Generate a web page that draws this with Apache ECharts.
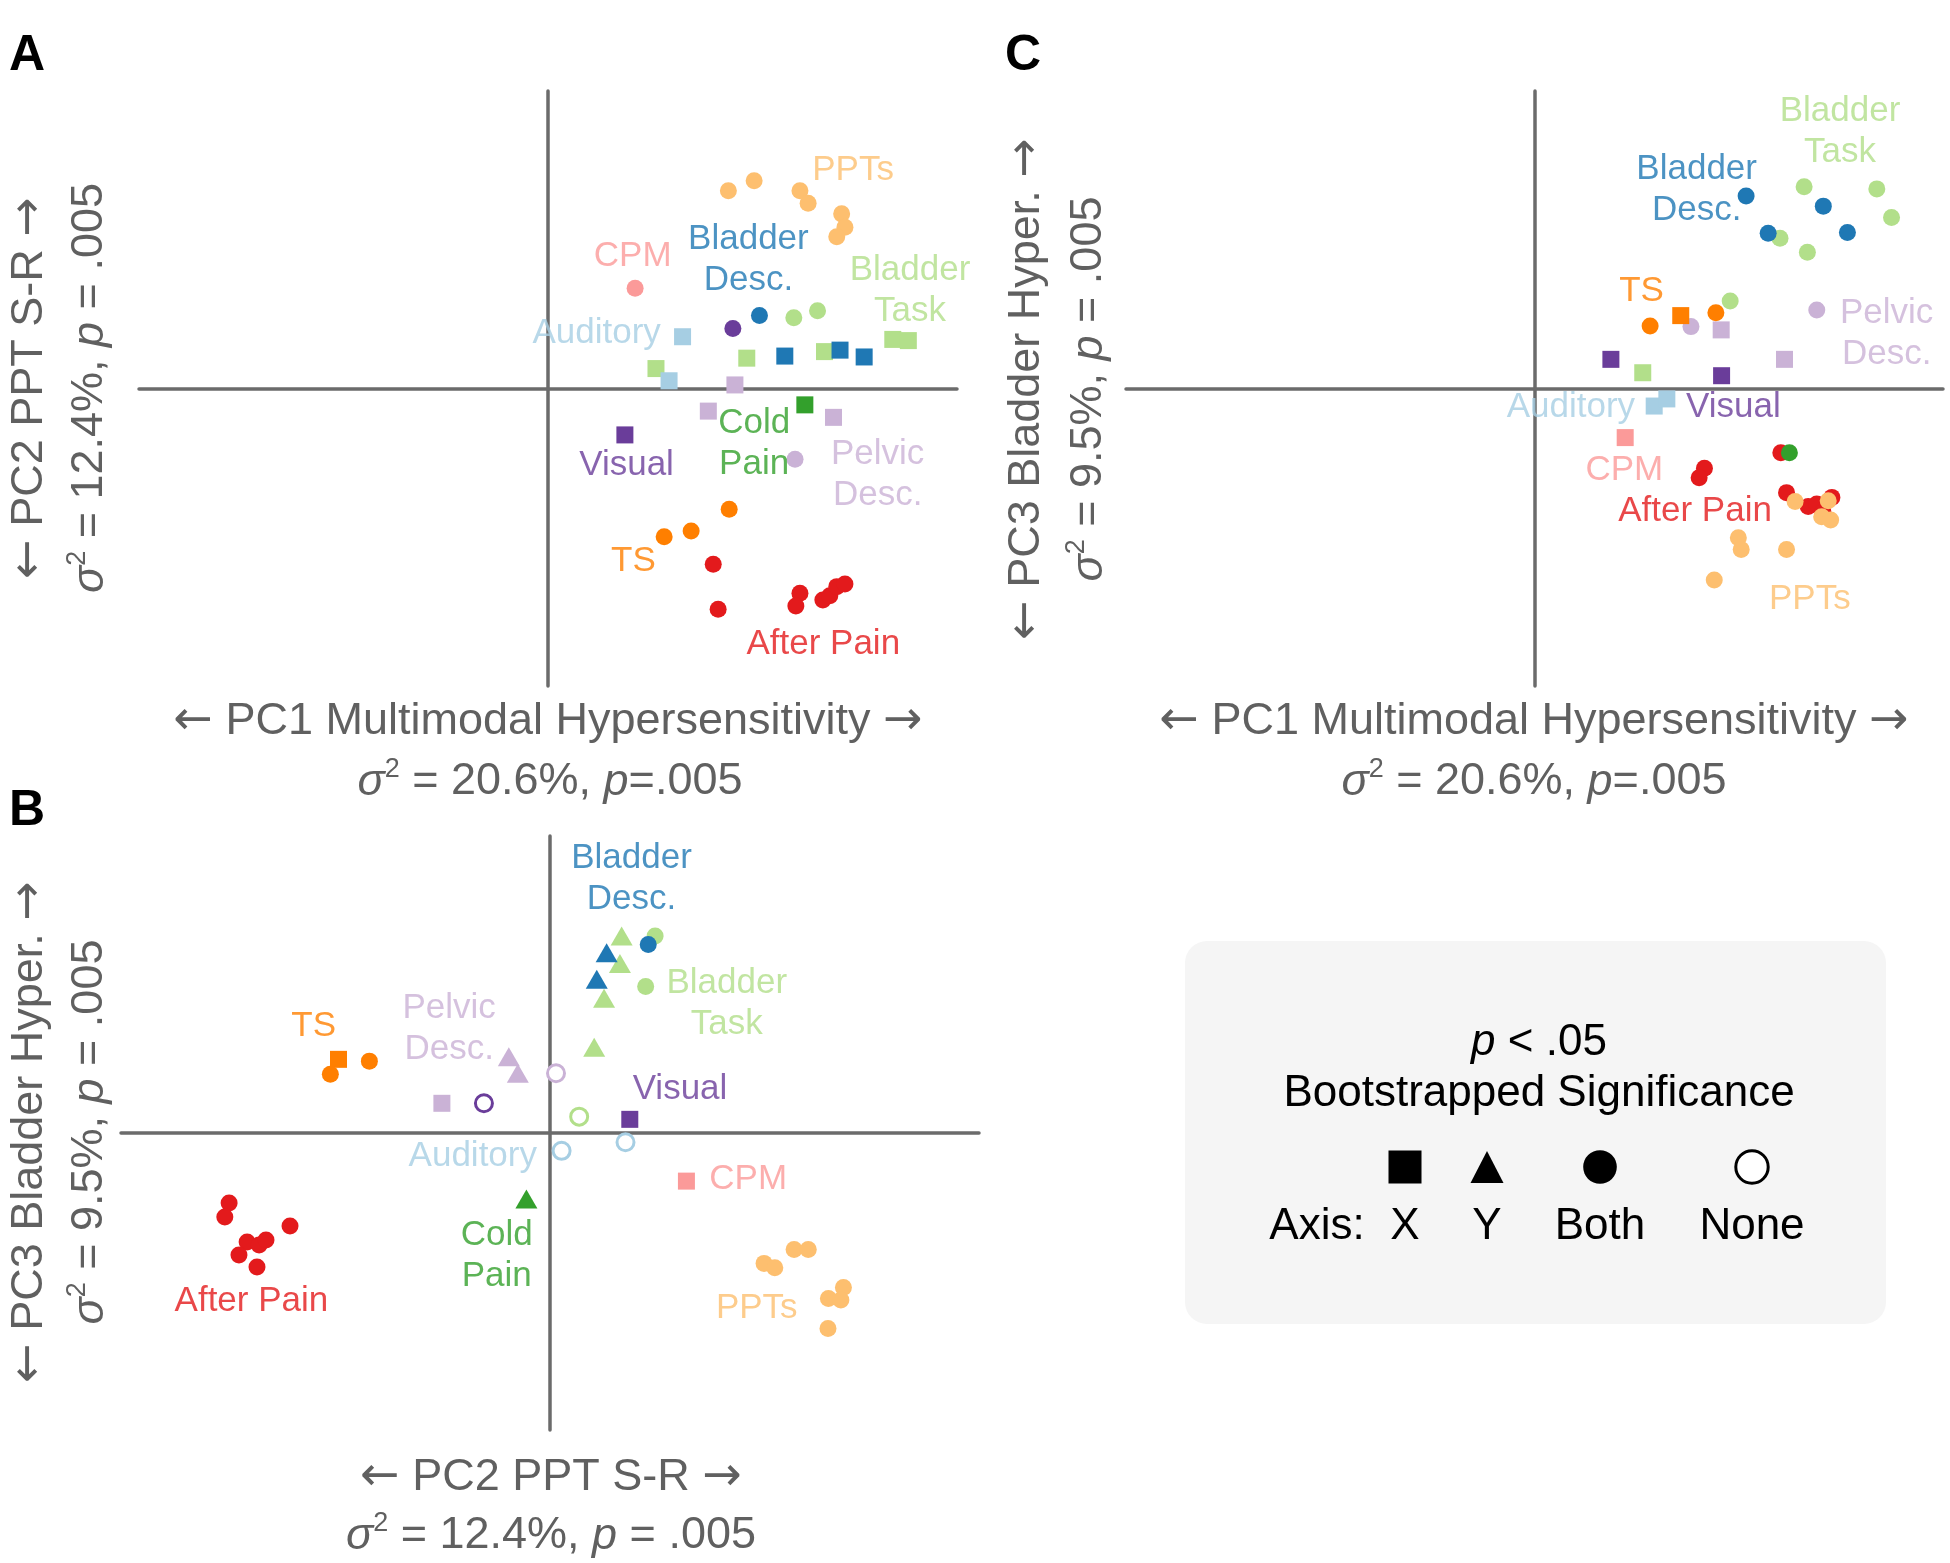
<!DOCTYPE html>
<html><head><meta charset="utf-8">
<script src="https://cdn.jsdelivr.net/npm/echarts@6/dist/echarts.min.js"></script>
<style>html,body{margin:0;padding:0;background:#fff}#c{width:1950px;height:1563px}</style>
</head><body><div id="c"></div>
<script>
// ---------------- DATA ----------------
// significance code: X = x axis only (square), Y = y axis only (triangle), B = both (filled circle), N = none (hollow circle)
const groupNames = ['Bladder Task','Bladder Desc.','Auditory','Visual','Pelvic Desc.','TS','CPM','After Pain','PPTs','Cold Pain'];

// Panel A : PC1 (x) vs PC2 (y)
const A_bladderTask = [[6.01,2.38,'B'],[6.59,2.61,'B'],[8.43,1.65,'X'],[8.81,1.61,'X'],[6.76,1.24,'X'],[4.86,1.02,'X'],[2.64,0.67,'X']];
const A_bladderDesc = [[5.17,2.45,'B'],[5.79,1.09,'X'],[7.14,1.29,'X'],[7.73,1.06,'X']];
const A_auditory    = [[3.29,1.74,'X'],[2.96,0.26,'X']];
const A_visual      = [[4.52,2.02,'B'],[1.88,-1.56,'X']];
const A_pelvic      = [[4.57,0.12,'X'],[3.92,-0.76,'X'],[6.98,-0.97,'X'],[6.04,-2.38,'B']];
const A_ts          = [[4.43,-4.06,'B'],[3.50,-4.79,'B'],[2.84,-4.98,'B']];
const A_cpm         = [[2.13,3.37,'B']];
const A_afterPain   = [[4.04,-5.91,'B'],[4.16,-7.42,'B'],[6.16,-6.88,'B'],[6.06,-7.31,'B'],[6.72,-7.11,'B'],[6.89,-6.97,'B'],[7.06,-6.66,'B'],[7.26,-6.57,'B']];
const A_ppts        = [[4.41,6.65,'B'],[5.04,6.98,'B'],[6.16,6.65,'B'],[6.36,6.23,'B'],[7.18,5.87,'B'],[7.26,5.42,'B'],[7.06,5.10,'B']];
const A_coldPain    = [[6.28,-0.55,'X']];
const A_labels = [
  ['PPTs','PPTs',7.46,7.34],['CPM','CPM',2.07,4.43],['Bladder Desc.','Bladder\nDesc.',4.90,4.34],
  ['Bladder Task','Bladder\nTask',8.85,3.27],['Auditory','Auditory',1.19,1.86],['Visual','Visual',1.92,-2.57],
  ['Cold Pain','Cold\nPain',5.04,-1.87],['Pelvic Desc.','Pelvic\nDesc.',8.06,-2.89],['TS','TS',2.09,-5.80],
  ['After Pain','After Pain',6.73,-8.60]
];

// Panel B : PC2 (x) vs PC3 (y)
const B_bladderTask = [[1.67,6.63,'Y'],[1.63,5.71,'Y'],[1.26,4.54,'Y'],[1.03,2.89,'Y'],[2.45,6.63,'B'],[2.23,4.93,'B'],[0.68,0.55,'N']];
const B_bladderDesc = [[1.32,6.07,'Y'],[1.09,5.18,'Y'],[2.29,6.35,'B']];
const B_auditory    = [[1.76,-0.31,'N'],[0.27,-0.60,'N']];
const B_visual      = [[1.86,0.46,'X'],[-1.54,1.00,'N']];
const B_pelvic      = [[-0.96,2.57,'Y'],[-0.75,2.01,'Y'],[0.14,2.01,'N'],[-2.52,1.00,'X']];
const B_ts          = [[-4.93,2.48,'X'],[-5.12,1.98,'B'],[-4.21,2.42,'B']];
const B_cpm         = [[3.18,-1.62,'X']];
const B_afterPain   = [[-7.48,-2.36,'B'],[-7.58,-2.83,'B'],[-6.06,-3.13,'B'],[-7.06,-3.67,'B'],[-6.78,-3.77,'B'],[-7.25,-4.11,'B'],[-6.83,-4.51,'B'],[-6.62,-3.60,'B']];
const B_ppts        = [[4.99,-4.39,'B'],[5.24,-4.54,'B'],[5.69,-3.92,'B'],[6.02,-3.92,'B'],[6.84,-5.20,'B'],[6.49,-5.57,'B'],[6.78,-5.62,'B'],[6.48,-6.58,'B']];
const B_coldPain    = [[-0.55,-2.22,'Y']];
const B_labels = [
  ['Bladder Desc.','Bladder\nDesc.',1.90,8.56],['Bladder Task','Bladder\nTask',4.12,4.35],['Visual','Visual',3.03,1.47],
  ['TS','TS',-5.51,3.60],['Pelvic Desc.','Pelvic\nDesc.',-2.35,3.51],['Auditory','Auditory',-1.80,-0.80],
  ['Cold Pain','Cold\nPain',-1.24,-4.13],['CPM','CPM',4.62,-1.56],['After Pain','After Pain',-6.96,-5.66],
  ['PPTs','PPTs',4.82,-5.90]
];

// Panel C : PC1 (x) vs PC3 (y)
const C_bladderTask = [[6.60,6.78,'B'],[8.38,6.71,'B'],[8.74,5.75,'B'],[6.01,5.05,'B'],[6.68,4.58,'B'],[4.79,2.94,'B'],[2.65,0.53,'X']];
const C_bladderDesc = [[5.18,6.47,'B'],[7.07,6.13,'B'],[5.72,5.22,'B'],[7.66,5.24,'B']];
const C_auditory    = [[2.93,-0.59,'X'],[3.24,-0.35,'X']];
const C_visual      = [[1.87,0.98,'X'],[4.58,0.43,'X']];
const C_pelvic      = [[3.83,2.08,'B'],[6.91,2.64,'B'],[4.57,1.97,'X'],[6.12,0.98,'X']];
const C_ts          = [[2.83,2.10,'B'],[4.44,2.55,'B'],[3.58,2.45,'X']];
const C_cpm         = [[2.22,-1.65,'X']];
const C_afterPain   = [[6.03,-2.16,'B'],[4.16,-2.68,'B'],[4.03,-3.00,'B'],[6.17,-3.50,'B'],[6.70,-3.97,'B'],[6.91,-3.88,'B'],[7.28,-3.66,'B'],[7.06,-4.15,'B']];
const C_ppts        = [[6.38,-3.80,'B'],[7.19,-3.77,'B'],[7.03,-4.31,'B'],[7.25,-4.42,'B'],[4.99,-5.02,'B'],[5.06,-5.41,'B'],[6.17,-5.41,'B'],[4.40,-6.44,'B']];
const C_coldPain    = [[6.24,-2.16,'B']];
const C_labels = [
  ['Bladder Desc.','Bladder\nDesc.',3.97,6.69],['Bladder Task','Bladder\nTask',7.48,8.64],['TS','TS',2.62,3.28],
  ['Pelvic Desc.','Pelvic\nDesc.',8.62,1.84],['Auditory','Auditory',0.89,-0.65],['Visual','Visual',4.87,-0.65],
  ['CPM','CPM',2.20,-2.74],['After Pain','After Pain',3.93,-4.12],['PPTs','PPTs',6.74,-7.09]
];

// axis titles
const xTitles = ['PC1 Multimodal Hypersensitivity','PC2 PPT S-R','PC1 Multimodal Hypersensitivity'];
const yTitles = ['PC2 PPT S-R','PC3 Bladder Hyper.','PC3 Bladder Hyper.'];
const xVar = [['20.6%','=.005'],['12.4%',' = .005'],['20.6%','=.005']];
const yVar = [['12.4%',' = .005'],['9.5%',' = .005'],['9.5%',' = .005']];
const panelLetters = ['A','B','C'];
const legendKeys = ['X','Y','Both','None'];

// ---------------- STYLE ----------------
const FONT = '"Liberation Sans", Arial, Helvetica, sans-serif';
const colorOf = {
  'Bladder Task':'#b2df8a','Bladder Desc.':'#1f78b4','Auditory':'#a6cee3','Visual':'#6a3d9a','Pelvic Desc.':'#cab2d6',
  'TS':'#ff7f00','CPM':'#fb9a99','After Pain':'#e31a1c','PPTs':'#fdbf6f','Cold Pain':'#33a02c'
};
const grids = [
  {left:139, top:91, width:818, height:595},
  {left:121, top:836, width:858, height:594},
  {left:1126, top:91, width:817, height:595}
];
const AXIS_COLOR = '#6b6b6b';
const TITLE_COLOR = '#606060';

const panels = [
  {groups:[A_bladderTask,A_bladderDesc,A_auditory,A_visual,A_pelvic,A_ts,A_cpm,A_afterPain,A_ppts,A_coldPain], labels:A_labels},
  {groups:[B_bladderTask,B_bladderDesc,B_auditory,B_visual,B_pelvic,B_ts,B_cpm,B_afterPain,B_ppts,B_coldPain], labels:B_labels},
  {groups:[C_bladderTask,C_bladderDesc,C_auditory,C_visual,C_pelvic,C_ts,C_cpm,C_afterPain,C_ppts,C_coldPain], labels:C_labels}
];

function symOf(s){ return s==='X' ? 'rect' : s==='Y' ? 'triangle' : 'circle'; }
function sizeOf(s){ return s==='Y' ? [22,19] : 17; }

const series = [];
panels.forEach((p, pi) => {
  p.groups.forEach((pts, gi) => {
    const name = groupNames[gi];
    const c = colorOf[name];
    series.push({
      type:'scatter', name, xAxisIndex:pi, yAxisIndex:pi, z:3, silent:true,
      emphasis:{disabled:true},
      data: pts.map(d => ({
        value:[d[0], d[1]], symbol:symOf(d[2]), symbolSize:sizeOf(d[2]),
        itemStyle: d[2]==='N' ? {color:'#ffffff', borderColor:c, borderWidth:3, opacity:1} : {color:c, opacity:1}
      }))
    });
  });
  series.push({
    type:'scatter', xAxisIndex:pi, yAxisIndex:pi, z:5, silent:true, symbolSize:1,
    itemStyle:{color:'rgba(0,0,0,0)'}, emphasis:{disabled:true},
    label:{show:true, position:'inside', formatter:(q)=>q.name, fontSize:35, lineHeight:41,
      fontFamily:FONT, align:'center', verticalAlign:'middle', textBorderWidth:0},
    data: p.labels.map(l => ({name:l[1], value:[l[2], l[3]], label:{color:colorOf[l[0]]}}))
  });
});

function axisCommon(gi){
  return {type:'value', gridIndex:gi, min:-10, max:10,
    axisLine:{show:true, onZero:true, lineStyle:{color:AXIS_COLOR, width:3.5}},
    axisTick:{show:false}, axisLabel:{show:false}, splitLine:{show:false}};
}

// ---------------- GRAPHIC (titles, letters, legend) ----------------
const richT = {
  n:{fontSize:45, fontFamily:FONT, fill:TITLE_COLOR, lineHeight:52},
  a:{fontSize:47, fontFamily:'"DejaVu Sans", sans-serif', fill:TITLE_COLOR, lineHeight:52},
  i:{fontSize:45, fontFamily:FONT, fill:TITLE_COLOR, fontStyle:'italic', lineHeight:52},
  s:{fontSize:27, fontFamily:FONT, fill:TITLE_COLOR, verticalAlign:'top', lineHeight:52}
};
function titleText(t){ return '{a|\u2190}{n| ' + t + ' }{a|\u2192}'; }
function varText(v){ return '{i|\u03c3}{s|2}{n| = ' + v[0] + ', }{i|p}{n|' + v[1] + '}'; }
const graphic = [];
const xTitlePos = [[548,722,550,782],[551,1478,551,1536],[1534,722,1534,782]];
const yTitlePos = [[30,388,90,388],[30,1132,90,1132],[1027,389,1089,389]];
for (let k=0;k<3;k++){
  graphic.push({type:'text', x:xTitlePos[k][0], y:xTitlePos[k][1], silent:true,
    style:{text:titleText(xTitles[k]), rich:richT, align:'center', verticalAlign:'middle'}});
  graphic.push({type:'text', x:xTitlePos[k][2], y:xTitlePos[k][3], silent:true,
    style:{text:varText(xVar[k]), rich:richT, align:'center', verticalAlign:'middle'}});
  graphic.push({type:'text', x:yTitlePos[k][0], y:yTitlePos[k][1], rotation:Math.PI/2, silent:true,
    style:{text:titleText(yTitles[k]), rich:richT, align:'center', verticalAlign:'middle'}});
  graphic.push({type:'text', x:yTitlePos[k][2], y:yTitlePos[k][3], rotation:Math.PI/2, silent:true,
    style:{text:varText(yVar[k]), rich:richT, align:'center', verticalAlign:'middle'}});
}
const letterPos = [[27,56],[27,811],[1023,56]];
panelLetters.forEach((L, k) => graphic.push({type:'text', x:letterPos[k][0], y:letterPos[k][1], silent:true,
  style:{text:L, fontSize:50, fontWeight:'bold', fontFamily:FONT, fill:'#000', align:'center', verticalAlign:'middle'}}));

// legend box
graphic.push({type:'rect', shape:{x:1185, y:941, width:701, height:383, r:22}, silent:true, style:{fill:'#f5f5f5'}});
graphic.push({type:'text', x:1539, y:1043, silent:true, style:{
  text:'{i|p}{n| < .05}', rich:{
    n:{fontSize:44, fontFamily:FONT, fill:'#000'}, i:{fontSize:44, fontFamily:FONT, fill:'#000', fontStyle:'italic'}},
  align:'center', verticalAlign:'middle'}});
graphic.push({type:'text', x:1539, y:1094, silent:true, style:{text:'Bootstrapped Significance', fontSize:44, fontFamily:FONT, fill:'#000', align:'center', verticalAlign:'middle'}});
graphic.push({type:'text', x:1317, y:1227, silent:true, style:{text:'Axis:', fontSize:44, fontFamily:FONT, fill:'#000', align:'center', verticalAlign:'middle'}});
const legX = [1405,1487,1600,1752];
legendKeys.forEach((k, i) => graphic.push({type:'text', x:legX[i], y:1227, silent:true,
  style:{text:k, fontSize:44, fontFamily:FONT, fill:'#000', align:'center', verticalAlign:'middle'}}));
graphic.push({type:'rect', shape:{x:1388.5, y:1150.5, width:33, height:33}, silent:true, style:{fill:'#000'}});
graphic.push({type:'polygon', shape:{points:[[1487,1151],[1470.5,1183],[1503.5,1183]]}, silent:true, style:{fill:'#000'}});
graphic.push({type:'circle', shape:{cx:1600, cy:1167, r:16.8}, silent:true, style:{fill:'#000'}});
graphic.push({type:'circle', shape:{cx:1752, cy:1167, r:16.2}, silent:true, style:{fill:'#fff', stroke:'#000', lineWidth:3}});

const chart = echarts.init(document.getElementById('c'), null, {renderer:'canvas'});
chart.setOption({
  animation:false,
  backgroundColor:'#ffffff',
  textStyle:{fontFamily:FONT},
  grid: grids.map(g => Object.assign({containLabel:false, outerBoundsMode:'none'}, g)),
  xAxis: [axisCommon(0), axisCommon(1), axisCommon(2)],
  yAxis: [axisCommon(0), axisCommon(1), axisCommon(2)],
  series,
  graphic
});
</script></body></html>
